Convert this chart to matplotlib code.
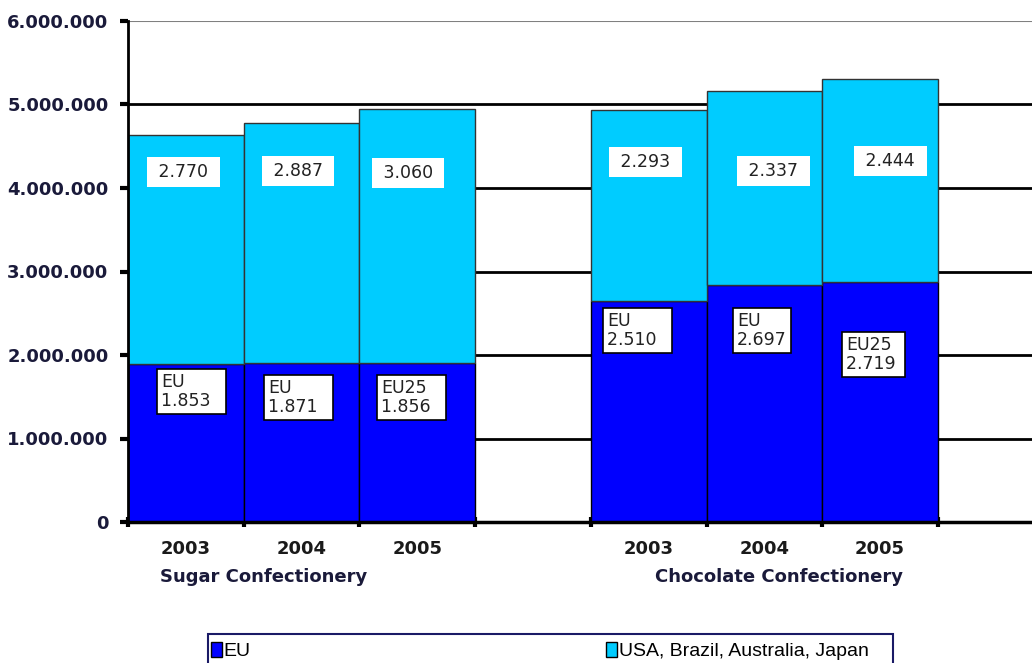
import matplotlib
matplotlib.use("Agg")
import matplotlib.pyplot as plt
from matplotlib.patches import Patch, Rectangle
import numpy as np

# ---- data (values in units) ----
years = ["2003", "2004", "2005", "2003", "2004", "2005"]
groups = ["Sugar Confectionery", "Chocolate Confectionery"]
eu_values = [1890000, 1900000, 1900000, 2650000, 2840000, 2880000]
other_values = [2745000, 2875000, 3046000, 2280000, 2320000, 2420000]
eu_labels = ["EU\n1.853", "EU\n1.871", "EU25\n1.856", "EU\n2.510", "EU\n2.697", "EU25\n2.719"]
other_labels = ["2.770", "2.887", "3.060", "2.293", "2.337", "2.444"]
yticks = [0, 1000000, 2000000, 3000000, 4000000, 5000000, 6000000]
ytick_labels = ["0", "1.000.000", "2.000.000", "3.000.000", "4.000.000", "5.000.000", "6.000.000"]
series_names = ["EU", "USA, Brazil, Australia, Japan"]

# ---- layout ----
W, H = 1032, 663
fig = plt.figure(figsize=(W / 100, H / 100), dpi=100)
ax_left, ax_bottom, ax_top = 128, 522, 21
unit = 115.7
ax = fig.add_axes([ax_left / W, 1 - ax_bottom / H, 8 * unit / W, (ax_bottom - ax_top) / H])
ax.set_xlim(0, 8)
ax.set_ylim(0, 6000000)

xpos = np.array([0.5, 1.5, 2.5, 4.5, 5.5, 6.5])
eu_color = "#0000FF"
other_color = "#00CCFF"

# gridlines
for yv in yticks[1:]:
    ax.axhline(yv, color="#808080" if yv == 6000000 else "black", lw=2 if yv < 6000000 else 1.5, zorder=0)

ax.bar(xpos, eu_values, width=1.0, color=eu_color, edgecolor="black", lw=1.0, zorder=2)
ax.bar(xpos, other_values, bottom=eu_values, width=1.0, color=other_color, edgecolor="#333333", lw=1.0, zorder=2)

ax.spines["top"].set_visible(False)
ax.spines["right"].set_visible(False)
ax.spines["left"].set_linewidth(2)
ax.spines["bottom"].set_linewidth(2.5)

tick_font = dict(family="DejaVu Sans", weight="bold", size=13)
ax.set_yticks(yticks)
ax.set_yticklabels(ytick_labels, color="#1a1a3a", **tick_font)
ax.tick_params(axis="y", length=6, width=3, pad=8)

ax.set_xticks(xpos)
ax.set_xticklabels(years, color="#1a1a1a", **tick_font)
ax.tick_params(axis="x", which="major", length=0, pad=13)
ax.set_xticks([0, 1, 2, 3, 4, 5, 6, 7], minor=True)
ax.tick_params(axis="x", which="minor", length=7, width=3, direction="inout")

# group labels
px2x = lambda px: (px - ax_left) / unit
py2y = lambda py: (ax_bottom - py) / (ax_bottom - ax_top) * 6000000
group_x = [px2x(264), px2x(779)]
for gx, g in zip(group_x, groups):
    ax.text(gx, -0.109, g, transform=ax.get_xaxis_transform(), ha="center", va="center",
            color="#1a1a3a", clip_on=False, **tick_font)

# value labels for the upper segment
other_dx = [-0.02, -0.03, -0.08, -0.03, 0.08, 0.09]
other_py = [172, 171, 173, 162, 171, 161]
for x, dx, py, lab in zip(xpos, other_dx, other_py, other_labels):
    ax.text(x + dx, py2y(py), " " + lab + " ", ha="center", va="center", fontsize=12.5, color="#222222",
            family="DejaVu Sans", zorder=5,
            bbox=dict(boxstyle="square,pad=0.35", fc="white", ec="none"))

# value labels for EU segment
eu_left_px = [161, 268, 381, 607, 737, 846]
eu_top_px = [373, 379, 379, 312, 312, 336]
eu_right_pad = [2, 2, 2, 2, 0, 1]
for lx, ty, rp, lab in zip(eu_left_px, eu_top_px, eu_right_pad, eu_labels):
    lines = lab.split("\n")
    shown = "\n".join(lines[:-1] + [lines[-1] + "\u2007" * 0 + " " * rp])
    ax.text(px2x(lx), py2y(ty), shown, ha="left", va="top", fontsize=12.5, color="#222222",
            family="DejaVu Sans", linespacing=1.05, zorder=5,
            bbox=dict(boxstyle="square,pad=0.25", fc="white", ec="black", lw=1.2))

# legend frame (cut off by figure bottom, as in the reference)
fig.patches.append(Rectangle((208 / W, -0.05), (893 - 208) / W, 0.05 + (663 - 634) / H,
                             transform=fig.transFigure, fc="white", ec="#1a1a66", lw=1.5))
handles = [Patch(fc=eu_color, ec="black"), Patch(fc=other_color, ec="black")]
leg = fig.legend(handles, series_names, loc="center left", ncol=2,
                 bbox_to_anchor=(211 / W, 1 - 651 / H),
                 prop=dict(family="Liberation Sans", size=14), frameon=False,
                 handlelength=0.55, handleheight=0.8, handletextpad=0.1, borderaxespad=0,
                 borderpad=0, columnspacing=18.3)

fig.savefig("out.png", dpi=100)
